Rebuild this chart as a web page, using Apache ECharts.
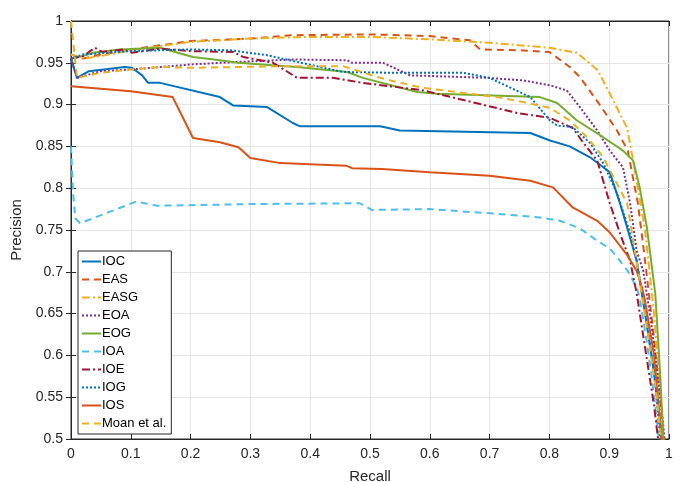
<!DOCTYPE html>
<html>
<head>
<meta charset="utf-8">
<script src="https://cdn.jsdelivr.net/npm/echarts@6/dist/echarts.min.js"></script>
<style>
  html, body { margin: 0; padding: 0; background: #fff; }
  #main { width: 689px; height: 482px; }
</style>
</head>
<body>
<div id="main"></div>
<script>
// 曲线数据 [recall, precision]
const ioc = [[0, 0.955], [0.01, 0.932], [0.03, 0.94], [0.09, 0.945], [0.102, 0.944], [0.119, 0.935], [0.129, 0.926], [0.149, 0.926],
  [0.249, 0.909], [0.271, 0.899], [0.328, 0.897], [0.371, 0.878], [0.383, 0.874], [0.517, 0.874], [0.55, 0.869], [0.768, 0.866],
  [0.801, 0.857], [0.834, 0.85], [0.868, 0.837], [0.901, 0.819], [0.918, 0.782], [0.93, 0.753], [0.946, 0.713], [0.96, 0.65],
  [0.975, 0.58], [0.985, 0.52], [0.99, 0.48]]
const eas = [[0, 0.96], [0.02, 0.955], [0.05, 0.96], [0.1, 0.966], [0.2, 0.976], [0.3, 0.979], [0.37, 0.983], [0.5, 0.984],
  [0.6, 0.982], [0.667, 0.977], [0.684, 0.966], [0.75, 0.965], [0.8, 0.963], [0.834, 0.945], [0.851, 0.933], [0.885, 0.899],
  [0.913, 0.869], [0.931, 0.845], [0.948, 0.782], [0.96, 0.713], [0.975, 0.62], [0.985, 0.55], [0.992, 0.48]]
const easg = [[0, 0.96], [0.02, 0.955], [0.05, 0.958], [0.1, 0.965], [0.2, 0.975], [0.3, 0.979], [0.4, 0.981], [0.5, 0.981],
  [0.6, 0.978], [0.7, 0.974], [0.8, 0.968], [0.846, 0.962], [0.881, 0.941], [0.901, 0.913], [0.93, 0.872], [0.94, 0.833],
  [0.96, 0.75], [0.975, 0.65], [0.986, 0.55], [0.993, 0.48]]
const eoa = [[0, 0.955], [0.01, 0.932], [0.05, 0.94], [0.1, 0.942], [0.15, 0.945], [0.2, 0.948], [0.25, 0.95], [0.371, 0.954],
  [0.462, 0.953], [0.47, 0.95], [0.522, 0.95], [0.567, 0.935], [0.696, 0.932], [0.756, 0.929], [0.801, 0.923], [0.829, 0.917],
  [0.851, 0.897], [0.88, 0.869], [0.901, 0.845], [0.923, 0.825], [0.935, 0.782], [0.946, 0.725], [0.957, 0.701], [0.97, 0.64],
  [0.982, 0.57], [0.99, 0.52], [0.995, 0.48]]
const eog = [[0, 0.955], [0.02, 0.958], [0.037, 0.962], [0.082, 0.966], [0.149, 0.968], [0.204, 0.957], [0.249, 0.953],
  [0.279, 0.95], [0.378, 0.945], [0.462, 0.939], [0.488, 0.932], [0.579, 0.915], [0.612, 0.913], [0.784, 0.909], [0.813, 0.902],
  [0.846, 0.881], [0.89, 0.861], [0.923, 0.845], [0.94, 0.833], [0.951, 0.801], [0.963, 0.753], [0.977, 0.674], [0.985, 0.58],
  [0.992, 0.48]]
const ioa = [[0, 0.85], [0.003, 0.8], [0.007, 0.764], [0.015, 0.758], [0.109, 0.784], [0.144, 0.779], [0.3, 0.781], [0.483, 0.782],
  [0.503, 0.774], [0.6, 0.775], [0.7, 0.77], [0.784, 0.765], [0.818, 0.761], [0.851, 0.752], [0.88, 0.737], [0.901, 0.728],
  [0.918, 0.713], [0.931, 0.701], [0.946, 0.681], [0.951, 0.669], [0.962, 0.62], [0.972, 0.57], [0.98, 0.52], [0.986, 0.48]]
const ioe = [[0, 0.955], [0.02, 0.958], [0.04, 0.968], [0.052, 0.963], [0.087, 0.966], [0.102, 0.962], [0.149, 0.967],
  [0.199, 0.964], [0.271, 0.963], [0.288, 0.957], [0.338, 0.95], [0.378, 0.932], [0.438, 0.932], [0.488, 0.926], [0.589, 0.917],
  [0.746, 0.89], [0.801, 0.884], [0.839, 0.872], [0.856, 0.855], [0.88, 0.833], [0.901, 0.782], [0.918, 0.746], [0.935, 0.713],
  [0.946, 0.674], [0.962, 0.6], [0.975, 0.54], [0.985, 0.48]]
const iog = [[0, 0.955], [0.02, 0.96], [0.1, 0.964], [0.199, 0.966], [0.266, 0.965], [0.328, 0.959], [0.366, 0.953],
  [0.455, 0.939], [0.545, 0.938], [0.656, 0.938], [0.7, 0.932], [0.768, 0.909], [0.801, 0.881], [0.813, 0.875], [0.839, 0.873],
  [0.868, 0.854], [0.89, 0.83], [0.913, 0.794], [0.935, 0.746], [0.946, 0.713], [0.965, 0.63], [0.978, 0.56], [0.988, 0.48]]
const ios = [[0, 0.922], [0.1, 0.916], [0.17, 0.909], [0.204, 0.86], [0.249, 0.855], [0.28, 0.849], [0.3, 0.836],
  [0.35, 0.83], [0.46, 0.827], [0.47, 0.824], [0.52, 0.823], [0.6, 0.819], [0.7, 0.815], [0.768, 0.809], [0.806, 0.801],
  [0.839, 0.777], [0.88, 0.761], [0.901, 0.747], [0.931, 0.719], [0.946, 0.701], [0.955, 0.681], [0.96, 0.665], [0.975, 0.6],
  [0.985, 0.52], [0.99, 0.48]]
const moan = [[0, 1.0], [0.01, 0.932], [0.05, 0.938], [0.1, 0.942], [0.15, 0.945], [0.199, 0.944], [0.366, 0.946],
  [0.455, 0.946], [0.49, 0.938], [0.512, 0.933], [0.545, 0.927], [0.589, 0.92], [0.645, 0.915], [0.712, 0.909], [0.756, 0.903],
  [0.801, 0.896], [0.834, 0.881], [0.863, 0.861], [0.89, 0.837], [0.93, 0.782], [0.943, 0.725], [0.962, 0.64], [0.978, 0.56],
  [0.99, 0.48]]

const names = ['IOC', 'EAS', 'EASG', 'EOA', 'EOG', 'IOA', 'IOE', 'IOG', 'IOS', 'Moan et al.']
const curves = [ioc, eas, easg, eoa, eog, ioa, ioe, iog, ios, moan]
const colors = ['#0072BD', '#D95319', '#EDB120', '#7E2F8E', '#77AC30', '#4DBEEE', '#A2142F', '#0072BD', '#D95319', '#EDB120']
const dashes = ['solid', [7, 5], [8, 3, 2, 3], [2, 2], 'solid', [7, 5], [8, 3, 2, 3], [2, 2], 'solid', [7, 5]]

const font = 'Liberation Sans, Arial, sans-serif'
const axisColor = '#262626'

const myChart = echarts.init(document.getElementById('main'))
const option = {
  animation: false,
  grid: {
    left: 71, right: 20, top: 21, bottom: 43,
    outerBoundsMode: 'none',
    show: true, borderColor: axisColor, borderWidth: 1
  },
  legend: {
    orient: 'vertical',
    left: 78, top: 251,
    itemWidth: 19, itemHeight: 10, itemGap: 5,
    padding: [4, 5, 4, 3],
    borderColor: axisColor, borderWidth: 1,
    backgroundColor: '#fff',
    itemStyle: { opacity: 0 },
    textStyle: { fontFamily: font, fontSize: 13, color: '#000', padding: [0, 0, 0, -4] },
    data: names
  },
  xAxis: [{
    type: 'value', min: 0, max: 1, interval: 0.1,
    name: 'Recall', nameLocation: 'middle', nameGap: 30,
    nameTextStyle: { fontFamily: font, fontSize: 15, color: axisColor },
    axisLine: { show: true, lineStyle: { color: axisColor } },
    axisTick: { show: true, inside: true, length: 5, lineStyle: { color: axisColor } },
    axisLabel: { fontFamily: font, fontSize: 14, color: axisColor, margin: 8 },
    splitLine: { show: true, lineStyle: { color: '#e6e6e6' } }
  }, {
    type: 'value', min: 0, max: 1, interval: 0.1, position: 'top',
    axisLine: { show: true, lineStyle: { color: axisColor } },
    axisTick: { show: true, inside: true, length: 5, lineStyle: { color: axisColor } },
    axisLabel: { show: false }, splitLine: { show: false }
  }],
  yAxis: [{
    type: 'value', min: 0.5, max: 1, interval: 0.05,
    name: 'Precision', nameLocation: 'middle', nameGap: 34, nameRotate: 90,
    nameTextStyle: { fontFamily: font, fontSize: 15, color: axisColor },
    axisLine: { show: true, lineStyle: { color: axisColor } },
    axisTick: { show: true, inside: true, length: 5, lineStyle: { color: axisColor } },
    axisLabel: { fontFamily: font, fontSize: 14, color: axisColor, margin: 8 },
    splitLine: { show: true, lineStyle: { color: '#e6e6e6' } }
  }, {
    type: 'value', min: 0.5, max: 1, interval: 0.05, position: 'right',
    axisLine: { show: true, lineStyle: { color: axisColor } },
    axisTick: { show: true, inside: true, length: 5, lineStyle: { color: axisColor } },
    axisLabel: { show: false }, splitLine: { show: false }
  }],
  series: curves.map((d, i) => ({
    name: names[i],
    type: 'line',
    data: d,
    symbol: 'none',
    clip: true,
    color: colors[i],
    lineStyle: { width: 2, color: colors[i], type: dashes[i] }
  }))
}
myChart.setOption(option)
</script>
</body>
</html>
